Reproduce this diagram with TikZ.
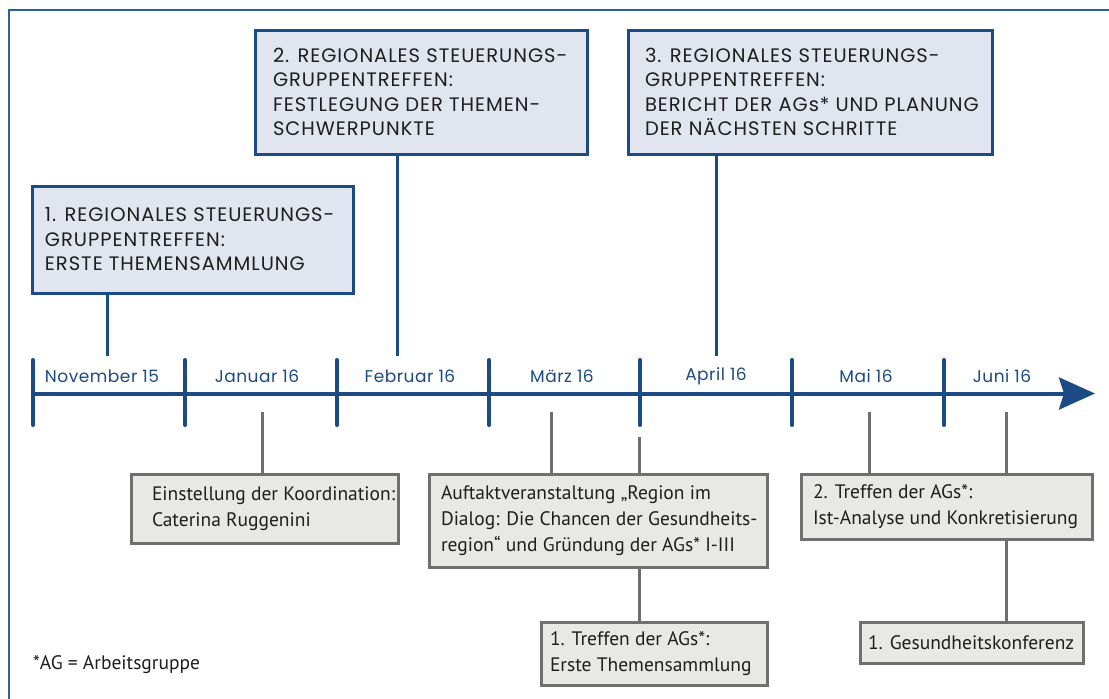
\documentclass[tikz,border=0pt]{standalone}
\usepackage{fontspec}
\setmainfont{PT Sans}
\newfontfamily\headfont[LetterSpace=5]{Poppins}
\newfontfamily\monthfont[LetterSpace=3]{Poppins}
\newfontfamily\bodyfont{PT Sans}
\usetikzlibrary{arrows.meta}

\definecolor{frameblue}{HTML}{2A62A0}
\definecolor{navy}{HTML}{1C4A85}
\definecolor{bluefill}{HTML}{E1E5F0}
\definecolor{greyline}{HTML}{6F6F6F}
\definecolor{greyfill}{HTML}{E8E8E4}
\definecolor{ink}{HTML}{1E1E1E}

% box content: total width, left padding, lines
\newcommand\boxtext[3]{\makebox[#1][l]{\hspace*{#2}\parbox{\dimexpr#1-#2\relax}{\raggedright #3}}}

\begin{document}
\begin{tikzpicture}[x=1pt,y=-1pt,
  topbox/.style={draw=navy, fill=bluefill, line width=3pt, inner sep=0pt,
    text=ink, font=\headfont\fontsize{19.5}{24.5}\selectfont},
  botbox/.style={draw=greyline, fill=greyfill, line width=3pt, inner sep=0pt,
    text=ink, font=\bodyfont\fontsize{19.5}{26}\selectfont},
  blueconn/.style={draw=navy, line width=3pt},
  greyconn/.style={draw=greyline, line width=3pt},
  tick/.style={draw=navy, line width=4pt, line cap=round},
  month/.style={text=navy, font=\monthfont\fontsize{17}{20}\selectfont},
]
\useasboundingbox (0,0) rectangle (1109,699);

% outer frame (top and left edges)
\draw[frameblue, line width=2.5pt] (1109,10) -- (9,10) -- (9,699);

% steering group meetings above the axis
\node[topbox, minimum height=107pt] (sg1) at (192.5,239.5)
  {\boxtext{321pt}{13pt}{1. REGIONALES STEUERUNGS-\\GRUPPENTREFFEN:\\ERSTE THEMENSAMMLUNG}};
\node[topbox, minimum height=124pt] (sg2) at (421,92)
  {\boxtext{332pt}{18pt}{2. REGIONALES STEUERUNGS-\\GRUPPENTREFFEN:\\FESTLEGUNG DER THEMEN-\\SCHWERPUNKTE}};
\node[topbox, minimum height=124pt] (sg3) at (810,92)
  {\boxtext{364pt}{17pt}{3. REGIONALES STEUERUNGS-\\GRUPPENTREFFEN:\\BERICHT DER AGs* UND PLANUNG\\DER NÄCHSTEN SCHRITTE}};

% time axis
\coordinate (axstart) at (33,393.5);
\coordinate (axend) at (1095,393.5);
\draw[navy, line width=4pt, -{Stealth[length=36pt, width=32pt, inset=5pt]}] (axstart) -- (axend);
\foreach \x in {33,185,337,489,640,792,944}
  \draw[tick] (\x,360) -- (\x,425);

\node[month] (m1) at (102,376) {November 15};
\node[month] (m2) at (257,376) {Januar 16};
\node[month] (m3) at (410,376) {Februar 16};
\node[month] (m4) at (562,376) {März 16};
\node[month] (m5) at (716,376) {April 16};
\node[month] (m6) at (866,376) {Mai 16};
\node[month] (m7) at (1002,376) {Juni 16};

% connectors from the meetings to the axis
\coordinate (c1) at (107,356);
\coordinate (c2) at (397,356);
\coordinate (c3) at (716,356);
\draw[blueconn] (sg1.south -| c1) -- (c1);
\draw[blueconn] (sg2.south -| c2) -- (c2);
\draw[blueconn] (sg3.south -| c3) -- (c3);

% events below the axis
\node[botbox, minimum height=69pt] (ev1) at (264.5,508.5)
  {\boxtext{267pt}{21pt}{Einstellung der Koordination:\\Caterina Ruggenini}};
\node[botbox, minimum height=93pt] (ev2) at (598,520.5)
  {\boxtext{338pt}{12pt}{Auftaktveranstaltung „Region im\\Dialog: Die Chancen der Gesundheits-\\region“ und Gründung der AGs* I-III}};
\node[botbox, minimum height=63pt] (ev3) at (654,653.5)
  {\boxtext{226pt}{9pt}{1. Treffen der AGs*:\\Erste Themensammlung}};
\node[botbox, minimum height=65pt] (ev4) at (946.5,506.5)
  {\boxtext{291pt}{12pt}{2. Treffen der AGs*:\\Ist-Analyse und Konkretisierung}};
\node[botbox, minimum height=41pt] (ev5) at (971.5,642.5)
  {\boxtext{223pt}{8pt}{1. Gesundheitskonferenz}};

% connectors from the axis to the events
\coordinate (d1) at (262,412);
\coordinate (d2) at (551,412);
\coordinate (d3) at (639,437);
\coordinate (d4) at (869,412);
\coordinate (d5) at (1006,412);
\draw[greyconn] (d1) -- (ev1.north -| d1);
\draw[greyconn] (d2) -- (ev2.north -| d2);
\draw[greyconn] (d3) -- (ev2.north -| d3);
\draw[greyconn] (ev2.south -| d3) -- (ev3.north -| d3);
\draw[greyconn] (d4) -- (ev4.north -| d4);
\draw[greyconn] (d5) -- (ev4.north -| d5);
\draw[greyconn] (ev4.south -| d5) -- (ev5.north -| d5);

% footnote
\node[anchor=west, text=ink, inner sep=0pt, font=\bodyfont\fontsize{19.5}{24}\selectfont] (fn) at (33,665)
  {*AG = Arbeitsgruppe};
\end{tikzpicture}
\end{document}
